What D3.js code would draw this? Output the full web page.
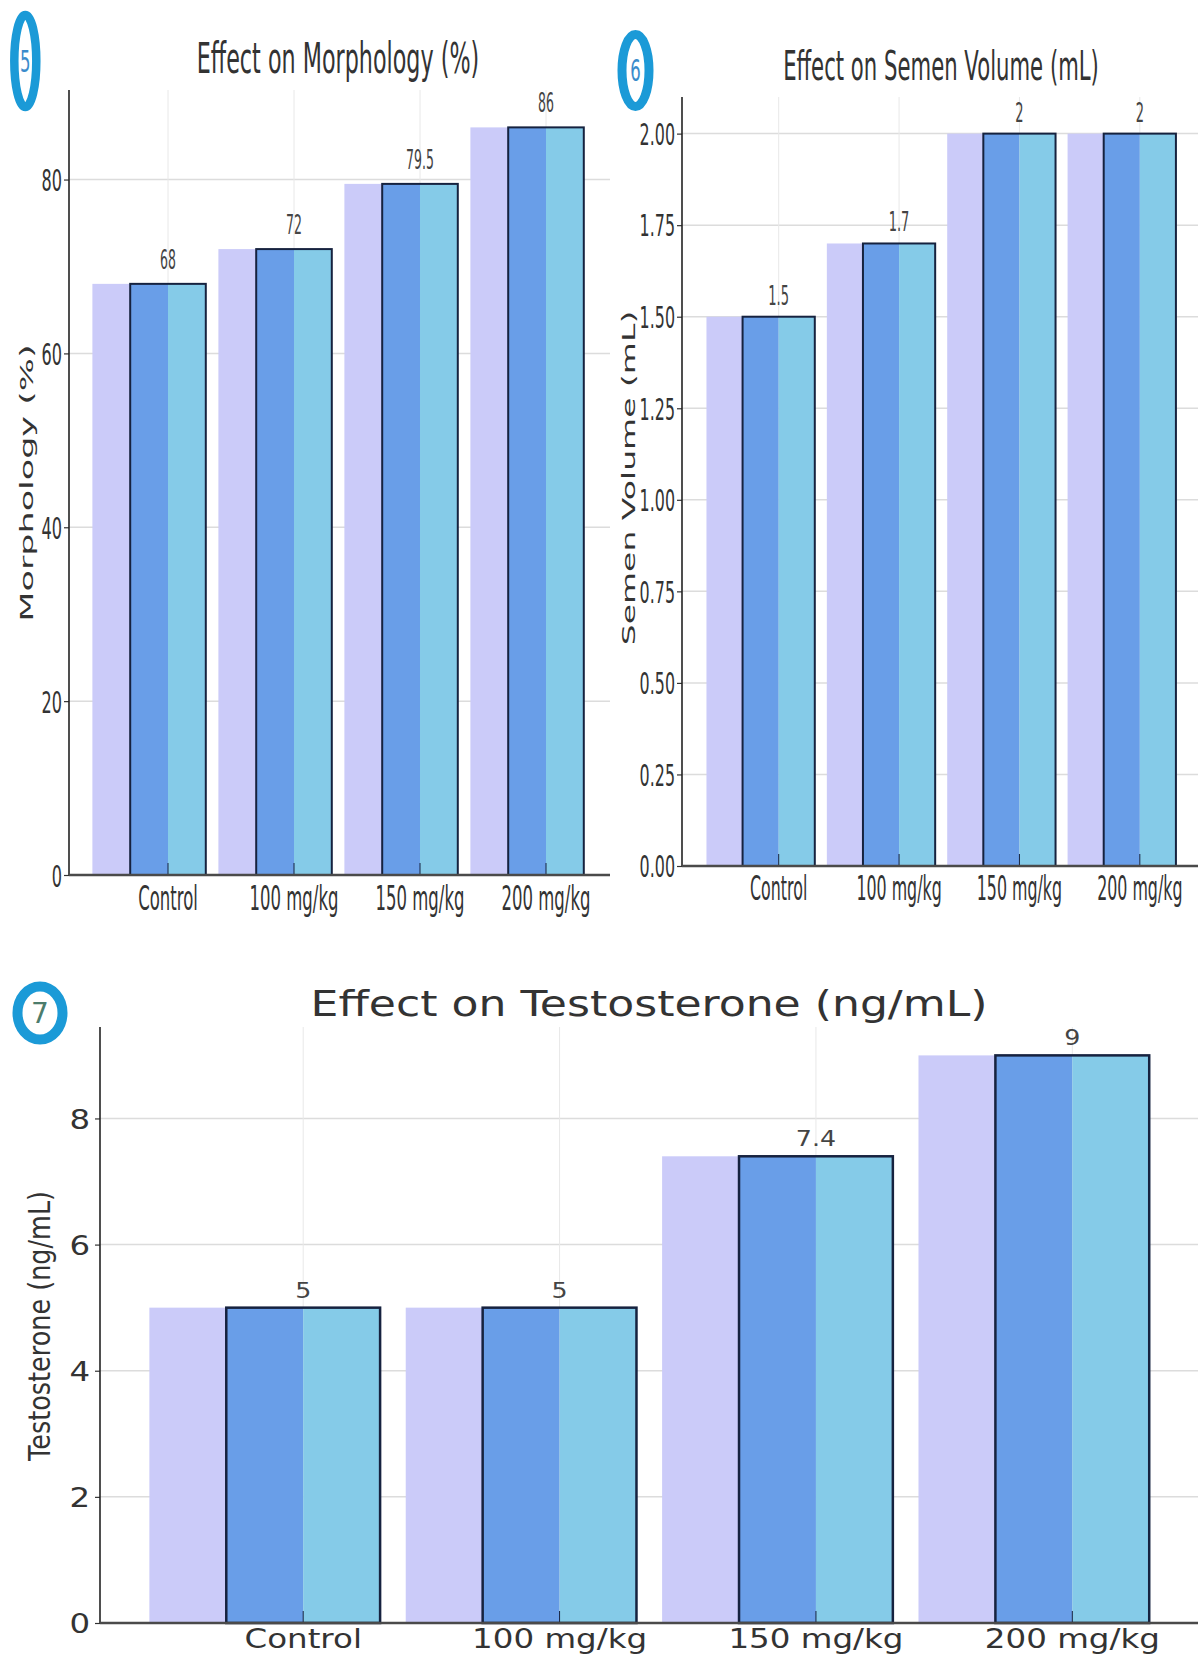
<!DOCTYPE html>
<html>
<head>
<meta charset="utf-8">
<script src="https://cdn.jsdelivr.net/npm/d3@7"></script>
<style>
  html, body { margin: 0; padding: 0; background: #ffffff; }
  svg { display: block; font-family: "DejaVu Sans", sans-serif; }
</style>
</head>
<body>
<svg id="chart" width="1198" height="1656"></svg>
<script>
// ---------------- data ----------------
const categories = ["Control", "100 mg/kg", "150 mg/kg", "200 mg/kg"];
const morphologyValues = [68, 72, 79.5, 86];
const volumeValues = [1.5, 1.7, 2, 2];
const testosteroneValues = [5, 5, 7.4, 9];
const morphologyTicks = [0, 20, 40, 60, 80];
const volumeTicks = [0, 0.25, 0.5, 0.75, 1.0, 1.25, 1.5, 1.75, 2.0];
const testosteroneTicks = [0, 2, 4, 6, 8];
const panelTitles = ["Effect on Morphology (%)", "Effect on Semen Volume (mL)", "Effect on Testosterone (ng/mL)"];
const axisTitles = ["Morphology (%)", "Semen Volume (mL)", "Testosterone (ng/mL)"];
const badgeLabels = ["5", "6", "7"];

// ---------------- style ----------------
const COLORS = { lav: "#cbcbf9", blue: "#699ee8", sky: "#85cbe8", edge: "#16223f",
  grid: "#dcdcdc", vgrid: "#e8e8e8", text: "#333333", badge: "#1b9ad7" };

const svg = d3.select("#chart");

function sText(g, x, y, str, o) {
  const t = g.append("text")
    .attr("transform", `translate(${x},${y})` + (o.rotate ? ` rotate(${o.rotate})` : "") +
      (o.rotate ? ` scale(1,${o.sx})` : ` scale(${o.sx},1)`))
    .attr("text-anchor", o.anchor || "middle")
    .attr("font-size", o.size)
    .attr("fill", o.fill || COLORS.text)
    .text(str);
  return t;
}

function drawPanel(cfg) {
  const g = svg.append("g");
  const x = d3.scaleBand().domain(categories).range([cfg.bandStart, cfg.bandEnd]);
  const y = d3.scaleLinear().domain([0, cfg.yMax]).range([cfg.bottom, cfg.top]);
  const bw = x.bandwidth();
  const w = bw * 0.3;
  const cx = c => x(c) + bw / 2;

  // horizontal gridlines
  g.append("g").selectAll("line").data(cfg.ticks.filter(t => t > 0)).join("line")
    .attr("x1", cfg.left).attr("x2", cfg.right)
    .attr("y1", d => y(d)).attr("y2", d => y(d))
    .attr("stroke", COLORS.grid).attr("stroke-width", 1.5);
  // vertical gridlines
  g.append("g").selectAll("line").data(categories).join("line")
    .attr("x1", d => cx(d)).attr("x2", d => cx(d))
    .attr("y1", cfg.top).attr("y2", cfg.bottom)
    .attr("stroke", COLORS.vgrid).attr("stroke-width", 1);

  const data = categories.map((c, i) => ({ c, v: cfg.values[i] }));
  const bars = g.append("g").selectAll("g").data(data).join("g");
  bars.append("rect").attr("x", d => cx(d.c) - 2 * w).attr("width", w)
    .attr("y", d => y(d.v)).attr("height", d => y(0) - y(d.v)).attr("fill", COLORS.lav);
  bars.append("rect").attr("x", d => cx(d.c) - w).attr("width", w)
    .attr("y", d => y(d.v)).attr("height", d => y(0) - y(d.v)).attr("fill", COLORS.blue);
  bars.append("rect").attr("x", d => cx(d.c)).attr("width", w)
    .attr("y", d => y(d.v)).attr("height", d => y(0) - y(d.v)).attr("fill", COLORS.sky);
  bars.append("line").attr("x1", d => cx(d.c)).attr("x2", d => cx(d.c))
    .attr("y1", d => y(0) - 12).attr("y2", y(0))
    .attr("stroke", COLORS.edge).attr("stroke-width", 1);
  bars.append("rect").attr("x", d => cx(d.c) - w).attr("width", 2 * w)
    .attr("y", d => y(d.v)).attr("height", d => y(0) - y(d.v))
    .attr("fill", "none").attr("stroke", COLORS.edge).attr("stroke-width", cfg.edgeW);

  // value labels
  bars.each(function (d) {
    sText(d3.select(this), cx(d.c), y(d.v) - cfg.valGap, String(d.v),
      { size: cfg.valSize, sx: cfg.valSx, fill: "#444" });
  });

  // left axis
  const ya = g.append("g").attr("transform", `translate(${cfg.left},0)`)
    .call(d3.axisLeft(y).tickValues(cfg.ticks).tickSize(5).tickFormat(cfg.fmt));
  ya.select(".domain").remove();
  ya.selectAll(".tick line").attr("stroke", "#333").attr("stroke-width", 1.2);
  ya.selectAll(".tick text")
    .attr("x", 0).attr("dy", "0.36em")
    .attr("font-size", cfg.tickSize).attr("fill", COLORS.text).attr("font-family", "DejaVu Sans")
    .attr("text-anchor", "end")
    .attr("transform", `translate(${-cfg.tickOff},0) scale(${cfg.tickSx},1)`);

  // bottom axis labels
  const xa = g.append("g").attr("transform", `translate(0,${cfg.bottom})`)
    .call(d3.axisBottom(x).tickSize(0));
  xa.select(".domain").remove();
  xa.selectAll(".tick text")
    .attr("y", 0).attr("dy", 0)
    .attr("font-size", cfg.catSize).attr("fill", COLORS.text).attr("font-family", "DejaVu Sans")
    .attr("transform", `translate(0,${cfg.catOff}) scale(${cfg.catSx},1)`);

  // spines
  g.append("line").attr("x1", cfg.left).attr("x2", cfg.left)
    .attr("y1", cfg.top).attr("y2", cfg.bottom)
    .attr("stroke", "#222").attr("stroke-width", 1.6);
  g.append("line").attr("x1", cfg.left).attr("x2", cfg.right)
    .attr("y1", cfg.bottom).attr("y2", cfg.bottom)
    .attr("stroke", "#4a4a4a").attr("stroke-width", 2.5);

  // titles
  sText(g, cfg.titleX, cfg.titleY, cfg.title, { size: cfg.titleSize, sx: cfg.titleSx });
  sText(g, cfg.ylabX, cfg.ylabY, cfg.ylab, { size: cfg.ylabSize, sx: cfg.ylabSx, rotate: -90 });

  // badge
  const b = cfg.badge;
  g.append("ellipse").attr("cx", b.cx).attr("cy", b.cy).attr("rx", b.rx).attr("ry", b.ry)
    .attr("fill", "#fff").attr("stroke", COLORS.badge).attr("stroke-width", b.sw);
  sText(g, b.cx, b.cy + b.size * 0.36, b.label, { size: b.size, sx: b.sx, fill: b.fill });
}

drawPanel({
  values: morphologyValues, ticks: morphologyTicks, fmt: d3.format("d"),
  left: 69, right: 610, bandStart: 105, bandEnd: 609, top: 90, bottom: 875, yMax: 90.3,
  edgeW: 2, valGap: 15, valSize: 26, valSx: 0.48,
  tickSize: 31, tickSx: 0.52, tickOff: 7,
  catSize: 33, catSx: 0.5, catOff: 35,
  title: panelTitles[0], titleX: 338, titleY: 73, titleSize: 42, titleSx: 0.53,
  ylab: axisTitles[0], ylabX: 33, ylabY: 483, ylabSize: 35, ylabSx: 0.52,
  badge: { cx: 25.3, cy: 61, rx: 11, ry: 46, sw: 8.5, label: badgeLabels[0], size: 30, sx: 0.55, fill: "#3a8ccc" }
});

drawPanel({
  values: volumeValues, ticks: volumeTicks, fmt: d3.format(".2f"),
  left: 682, right: 1198, bandStart: 718.5, bandEnd: 1200, top: 97, bottom: 866, yMax: 2.1,
  edgeW: 2, valGap: 12, valSize: 26, valSx: 0.5,
  tickSize: 30, tickSx: 0.53, tickOff: 7,
  catSize: 33, catSx: 0.48, catOff: 34,
  title: panelTitles[1], titleX: 941, titleY: 80, titleSize: 40, titleSx: 0.53,
  ylab: axisTitles[1], ylabX: 635, ylabY: 478, ylabSize: 33, ylabSx: 0.52,
  badge: { cx: 635.5, cy: 70.5, rx: 13.5, ry: 36, sw: 9, label: badgeLabels[1], size: 30, sx: 0.55, fill: "#3a8ccc" }
});

drawPanel({
  values: testosteroneValues, ticks: testosteroneTicks, fmt: d3.format("d"),
  left: 100, right: 1198, bandStart: 175, bandEnd: 1200.5, top: 1027, bottom: 1623, yMax: 9.45,
  edgeW: 2.5, valGap: 10, valSize: 22, valSx: 1.15,
  tickSize: 27, tickSx: 1.2, tickOff: 10,
  catSize: 26, catSx: 1.25, catOff: 25,
  title: panelTitles[2], titleX: 649, titleY: 1016, titleSize: 35, titleSx: 1.26,
  ylab: axisTitles[2], ylabX: 50, ylabY: 1326, ylabSize: 25.5, ylabSx: 1.2,
  badge: { cx: 40, cy: 1013, rx: 22.5, ry: 26.5, sw: 10, label: badgeLabels[2], size: 28, sx: 1.0, fill: "#4c7c6c" }
});
</script>
</body>
</html>
